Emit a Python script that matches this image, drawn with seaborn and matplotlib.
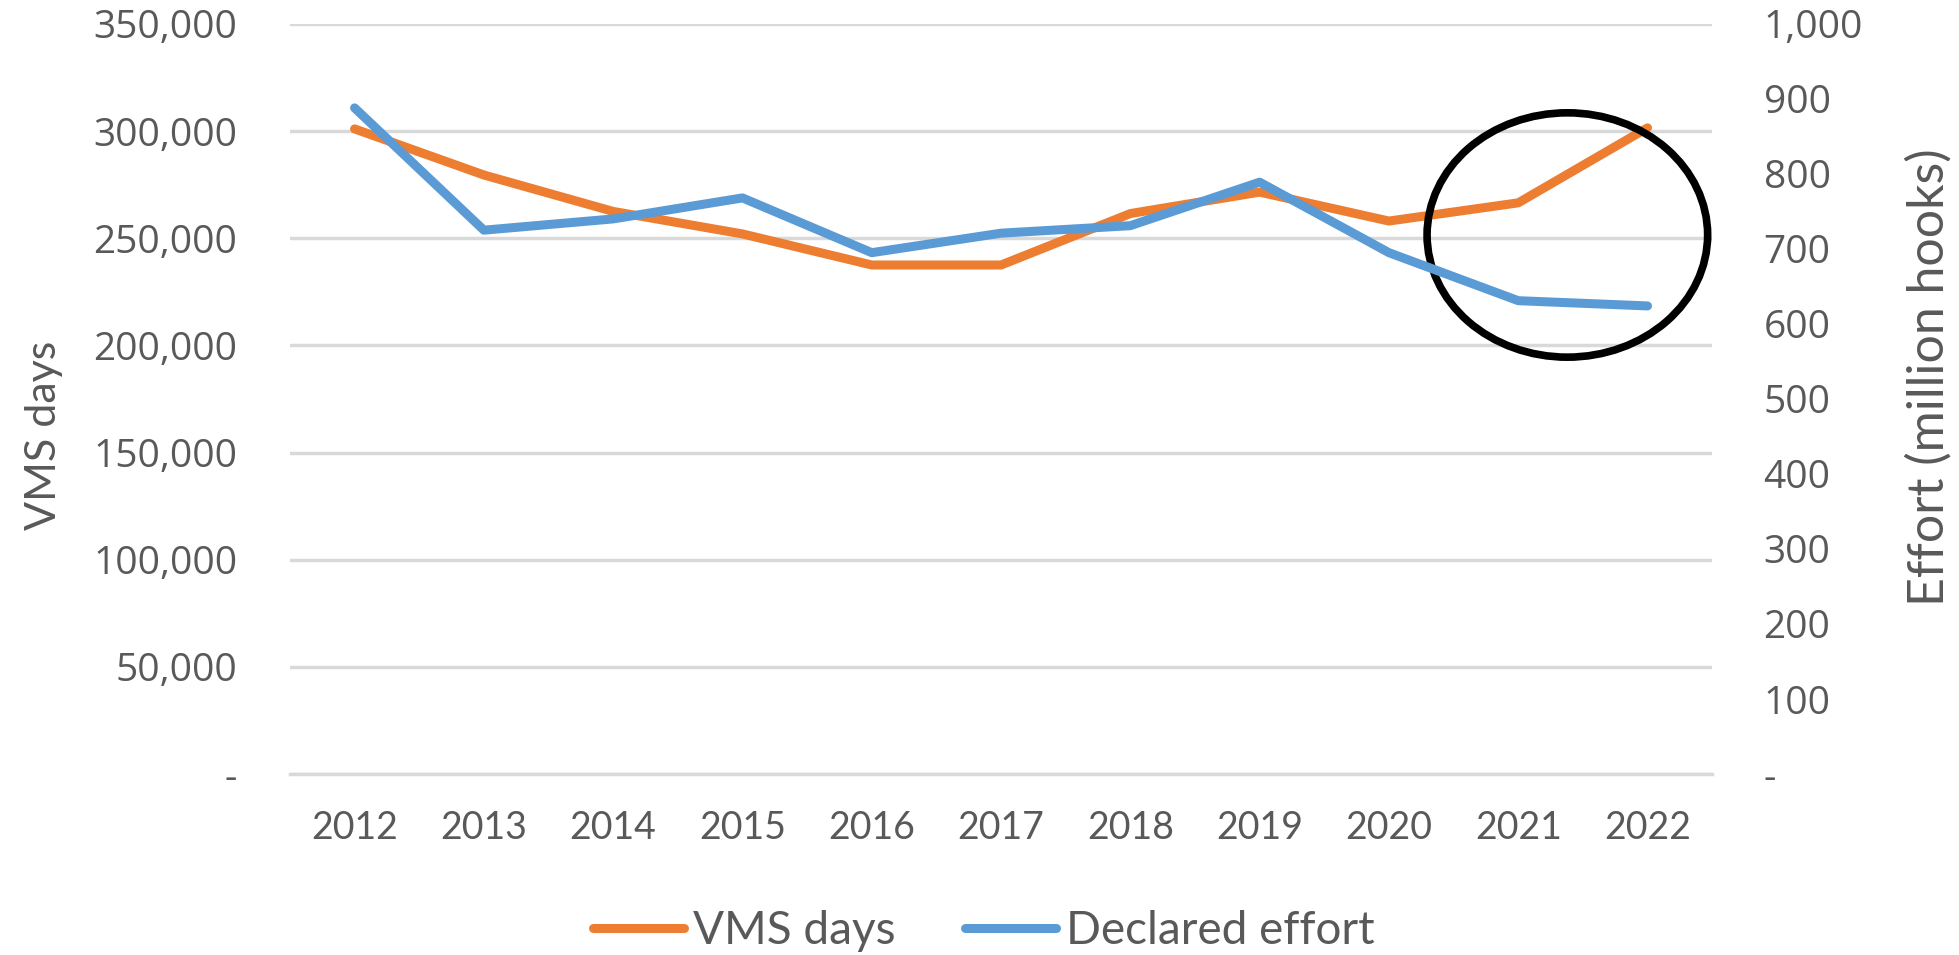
import matplotlib
matplotlib.use("Agg")
import matplotlib.pyplot as plt
from matplotlib.patches import Ellipse
from matplotlib.ticker import FuncFormatter
import seaborn as sns
import pandas as pd

# values
years = ["2012", "2013", "2014", "2015", "2016", "2017", "2018", "2019", "2020", "2021", "2022"]
vms_days = [301000, 279500, 262500, 252000, 237500, 237500, 261500, 271500, 258000, 266500, 301500]
declared_effort = [888, 725, 740, 768, 695, 721, 731, 789, 695, 631, 624]

ORANGE = "#ED7D31"
BLUE = "#5B9BD5"
GREY = "#595959"

sns.set_theme(style="white")
plt.rcParams["font.family"] = ["Lato", "DejaVu Sans"]

df = pd.DataFrame({"year": years, "vms": vms_days, "effort": declared_effort})

fig = plt.figure(figsize=(19.59, 9.55), dpi=100)
ax = fig.add_axes([0.148, 0.1895, 0.726, 0.7855])
ax2 = ax.twinx()

sns.lineplot(data=df, x="year", y="vms", ax=ax, color=ORANGE, lw=6.5,
             solid_capstyle="round", label="VMS days", legend=False)
sns.lineplot(data=df, x="year", y="effort", ax=ax2, color=BLUE, lw=6.5,
             solid_capstyle="round", label="Declared effort", legend=False)

ax.set_xlim(-0.5, len(years) - 0.5)
ax.set_ylim(0, 350000)
ax2.set_ylim(0, 1000)
ax.set_yticks(range(0, 350001, 50000))
ax2.set_yticks(range(0, 1001, 100))

fmt = FuncFormatter(lambda v, p: "-" if v == 0 else f"{int(v):,}")
ax.yaxis.set_major_formatter(fmt)
ax2.yaxis.set_major_formatter(fmt)

ax.grid(axis="y", color="#D9D9D9", lw=2.5)
ax.set_axisbelow(True)
for a in (ax, ax2):
    for s in a.spines.values():
        s.set_visible(False)
ax.spines["bottom"].set_visible(True)
ax.spines["bottom"].set_color("#D9D9D9")
ax.spines["bottom"].set_linewidth(2.5)

ax.tick_params(axis="y", length=0, labelcolor=GREY, pad=38, labelsize=28,
               labelfontfamily="Open Sans")
ax2.tick_params(axis="y", length=0, labelcolor=GREY, pad=37, labelsize=28,
                labelfontfamily="Open Sans")
ax.tick_params(axis="x", length=0, labelcolor=GREY, pad=26, labelsize=27)

ax.set_xlabel("")
ax.set_ylabel("VMS days", fontsize=31, color=GREY, va="center")
ax2.set_ylabel("Effort (million hooks)", fontsize=36, color=GREY, va="center")
ax.yaxis.set_label_coords(-0.173, 0.451)
ax2.yaxis.set_label_coords(1.153, 0.529)

# circle highlighting the last two years
ax.add_patch(Ellipse((9.38, 251500), 2.17, 114000, fill=False, ec="black", lw=5.5,
                     clip_on=False, zorder=5))

handles = ax.get_lines()[:1] + ax2.get_lines()[:1]
fig.legend(handles, ["VMS days", "Declared effort"], loc="center",
           bbox_to_anchor=(0.502, 0.025), ncol=2, frameon=False, fontsize=33,
           labelcolor=GREY, handlelength=2.0, handletextpad=0.2, columnspacing=1.5)

fig.savefig("out.png", dpi=100)
